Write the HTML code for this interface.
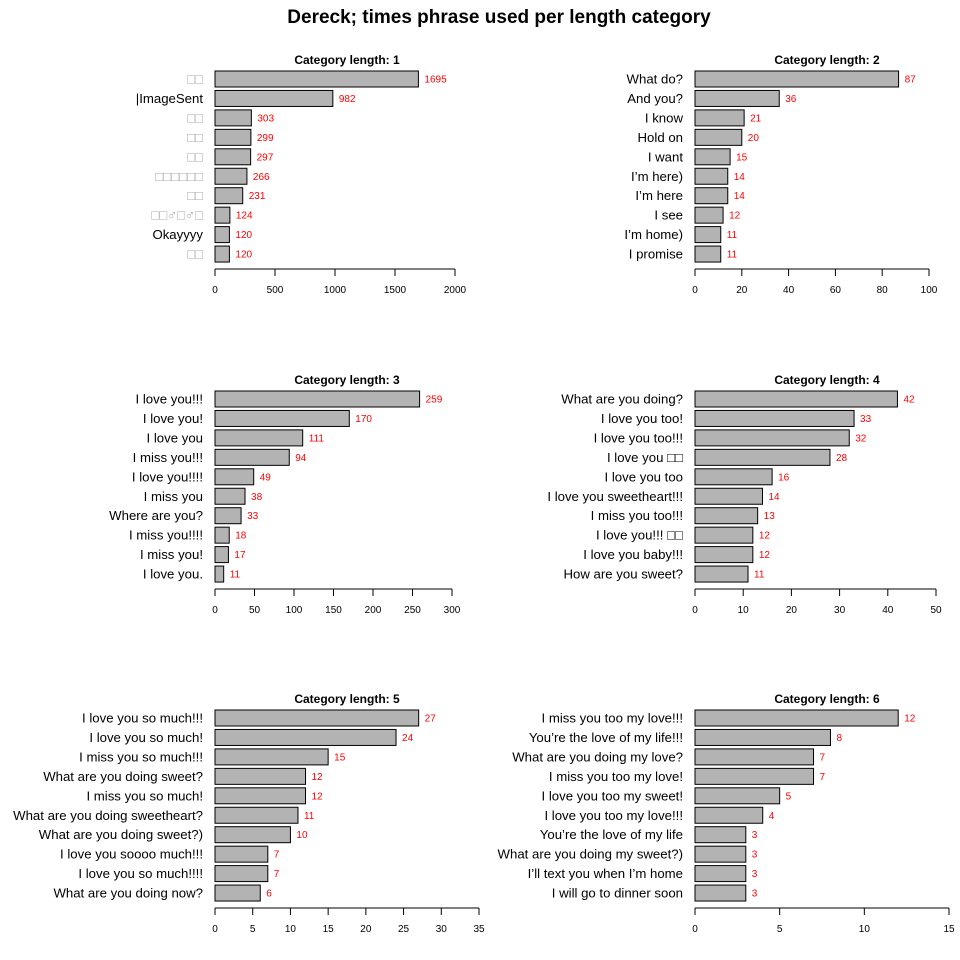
<!DOCTYPE html>
<html><head><meta charset="utf-8"><style>
html,body{margin:0;padding:0;background:#fff;}
svg{display:block;font-family:"Liberation Sans","DejaVu Sans",sans-serif;}
</style></head><body>
<svg id="c" width="960" height="960" viewBox="0 0 960 960">
<text x="499" y="23" text-anchor="middle" font-size="19" font-weight="bold">Dereck; times phrase used per length category</text>
</svg>
<script>
const titles = ["Category length: 1","Category length: 2","Category length: 3","Category length: 4","Category length: 5","Category length: 6"];
const labels1 = ["□□","|ImageSent","□□","□□","□□","□□□□□□","□□","□□♂□♂□","Okayyyy","□□"];
const values1 = [1695,982,303,299,297,266,231,124,120,120];
const labels2 = ["What do?","And you?","I know","Hold on","I want","I’m here)","I’m here","I see","I’m home)","I promise"];
const values2 = [87,36,21,20,15,14,14,12,11,11];
const labels3 = ["I love you!!!","I love you!","I love you","I miss you!!!","I love you!!!!","I miss you","Where are you?","I miss you!!!!","I miss you!","I love you."];
const values3 = [259,170,111,94,49,38,33,18,17,11];
const labels4 = ["What are you doing?","I love you too!","I love you too!!!","I love you □□","I love you too","I love you sweetheart!!!","I miss you too!!!","I love you!!! □□","I love you baby!!!","How are you sweet?"];
const values4 = [42,33,32,28,16,14,13,12,12,11];
const labels5 = ["I love you so much!!!","I love you so much!","I miss you so much!!!","What are you doing sweet?","I miss you so much!","What are you doing sweetheart?","What are you doing sweet?)","I love you soooo much!!!","I love you so much!!!!","What are you doing now?"];
const values5 = [27,24,15,12,12,11,10,7,7,6];
const labels6 = ["I miss you too my love!!!","You’re the love of my life!!!","What are you doing my love?","I miss you too my love!","I love you too my sweet!","I love you too my love!!!","You’re the love of my life","What are you doing my sweet?)","I’ll text you when I’m home","I will go to dinner soon"];
const values6 = [12,8,7,7,5,4,3,3,3,3];
const ticks1 = [0,500,1000,1500,2000];
const ticks2 = [0,20,40,60,80,100];
const ticks3 = [0,50,100,150,200,250,300];
const ticks4 = [0,10,20,30,40,50];
const ticks5 = [0,5,10,15,20,25,30,35];
const ticks6 = [0,5,10,15];
const panels = [
 {l:labels1,v:values1,t:ticks1,x0:215,x1:455,y:0,tc:347},
 {l:labels2,v:values2,t:ticks2,x0:695,x1:929,y:0,tc:827},
 {l:labels3,v:values3,t:ticks3,x0:215,x1:452,y:320,tc:347},
 {l:labels4,v:values4,t:ticks4,x0:695,x1:936,y:320,tc:827},
 {l:labels5,v:values5,t:ticks5,x0:215,x1:479,y:639,tc:347},
 {l:labels6,v:values6,t:ticks6,x0:695,x1:949,y:639,tc:827}
];
const NS="http://www.w3.org/2000/svg";
const svg=document.getElementById('c');
function mk(tag,attrs,parent){const e=document.createElementNS(NS,tag);for(const k in attrs)e.setAttribute(k,attrs[k]);(parent||svg).appendChild(e);return e;}
panels.forEach((p,pi)=>{
  const g=mk('g',{});
  
  
  const tmax=p.t[p.t.length-1];
  const sx=v=>p.x0+(v/tmax)*(p.x1-p.x0);
  const tt=mk('text',{x:p.tc,y:p.y+64,'text-anchor':'middle','font-size':12,'font-weight':'bold'},g);
  
  
  tt.textContent=titles[pi];
  p.v.forEach((v,i)=>{
    const cy=p.y+79+i*19.45;
    const r=mk('rect',{x:p.x0,y:cy-8,width:sx(v)-p.x0,height:16,fill:'#b3b3b3',stroke:'#000','stroke-width':1},g);
    
    
    const lb=mk('text',{x:p.x0-12,y:cy+4.5,'text-anchor':'end','font-size':13.2,fill:(pi==0&&p.l[i].includes('□'))?'#aaa':'#000'},g);
    
    
    lb.textContent=p.l[i];
    const vl=mk('text',{x:sx(v)+6,y:cy+3.5,'font-size':10,fill:'#f00'},g);
    
    
    vl.textContent=v;
  });
  const ay=p.y+269;
  const ax=mk('line',{x1:p.x0,x2:p.x1,y1:ay,y2:ay,stroke:'#000','stroke-width':1},g);
  
  
  p.t.forEach(t=>{
    const x=sx(t);
    const tk=mk('line',{x1:x,x2:x,y1:ay,y2:ay+7,stroke:'#000','stroke-width':1},g);
    
    
    const tl=mk('text',{x:x,y:ay+24,'text-anchor':'middle','font-size':10},g);
    
    
    tl.textContent=t;
  });
});
</script>
</body></html>
